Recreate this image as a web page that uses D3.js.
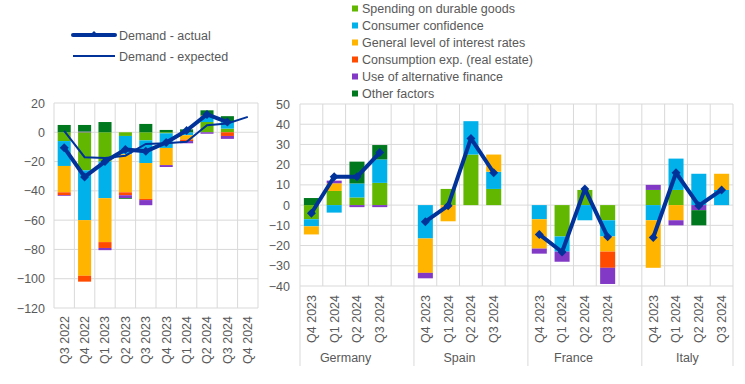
<!DOCTYPE html>
<html>
<head>
<meta charset="utf-8">
<script src="https://cdn.jsdelivr.net/npm/d3@7"></script>
<style>
  body { margin: 0; background: #fff; }
  svg text { font-family: "Liberation Sans", Arial, sans-serif; fill: #595959; }
</style>
</head>
<body>
<svg id="chart" width="745" height="384"></svg>
<script>
// ---- data: euro area (left panel) ----
const leftQuarters = ["Q3 2022", "Q4 2022", "Q1 2023", "Q2 2023", "Q3 2023",
                      "Q4 2023", "Q1 2024", "Q2 2024", "Q3 2024", "Q4 2024"];
const leftDurable    = [-6, -26, -20, -2.5, -5.5, -0.7, 0, 7, 2.5, 0];
const leftConfidence = [-17, -34, -25, -12.5, -15.5, -10, -2, 4, 5, 0];
const leftRates      = [-18, -38, -30, -26, -24.5, -11.7, -3, 0, 0, 0];
const leftRealEstate = [-2, -4, -4, -2, -0.8, 0, -1, 0.5, -2.5, 0];
const leftAltFinance = [-0.5, 0.5, -1.5, -2, -3.5, -1.3, -1.5, -1, -2, 0];
const leftOther      = [5, 4.5, 7, -0.5, 5.7, 1.6, 2, 3.5, 3.5, 0];
const leftActual     = [-10.5, -30.5, -20, -11.8, -13, -7, 1.2, 12.2, 7, null];
const leftExpected   = [1, -17, -17.5, -16, -8, -7.5, -6.5, 4.8, 6, 10.5];
const leftTicks      = [-120, -100, -80, -60, -40, -20, 0, 20];

// ---- data: countries (right panel) ----
const countries = ["Germany", "Spain", "France", "Italy"];
const rightQuarters = ["Q4 2023", "Q1 2024", "Q2 2024", "Q3 2024"];
// values ordered country by country, quarter by quarter
const rightDurable    = [-7, 7, 3.8, 11,   0, 8, 25, 8,   0, -15.5, 7.5, -7.5,   7.5, 7.5, 0, 0];
const rightConfidence = [-3.5, -3.7, 6.9, 11.6,   -16.5, 0, 16.5, 8.5,   -7, -7.5, -7.5, -8,   -7.5, 15.5, 15.5, 7.5];
const rightRates      = [-4, 3.8, 0, 0,   -17, -8, 0, 8.5,   -14.5, 0, 0, -7.5,   -23.5, -7.5, 0, 8];
const rightRealEstate = [0, 0, 0, 0,   0, 0, 0, 0,   0, 0, 0, -8,   0, 0, 0, 0];
const rightAltFinance = [0, 1.3, -1, -1,   -2.7, 0, 0, 0,   -2.5, -5, 0, -8,   2.5, -2.5, -2.5, 0];
const rightOther      = [3.5, 0, 10.8, 7.1,   0, 0, 0, 0,   0, 0, 0, 0,   0, 0, -7.5, 0];
const rightActual     = [-4, 14, 14, 26,   -8.2, -0.3, 33, 16,   -14.5, -23.2, 8, -15.7,   -16, 16, -0.3, 7.5];
const rightTicks      = [-40, -30, -20, -10, 0, 10, 20, 30, 40, 50];

const seriesKeys   = ["durable", "confidence", "rates", "realEstate", "altFinance", "other"];
const seriesLabels = ["Spending on durable goods", "Consumer confidence", "General level of interest rates",
                      "Consumption exp. (real estate)", "Use of alternative finance", "Other factors"];
const seriesColors = ["#62b800", "#00b1ea", "#ffb400", "#ff4b00", "#8139c6", "#00781e"];
const lineColor = "#003299";
const gridColor = "#d9d9d9";

const svg = d3.select("#chart");
const color = d3.scaleOrdinal().domain(seriesKeys).range(seriesColors);

function buildRows(keys, arrays) {
    return keys.map((k, i) => {
        const row = { key: k };
        seriesKeys.forEach((s, j) => { row[s] = arrays[j][i]; });
        return row;
    });
}

const stack = d3.stack().keys(seriesKeys).offset(d3.stackOffsetDiverging);

function diamond(g, points, x, y) {
    g.selectAll(null)
        .data(points)
        .enter()
        .append("path")
        .attr("d", d3.symbol().type(d3.symbolSquare).size(40))
        .attr("transform", d => `translate(${x(d.key)},${y(d.v)}) rotate(45)`)
        .attr("fill", lineColor);
}

// ================= left panel =================
{
    const x = d3.scaleBand().domain(leftQuarters).range([54, 258]).padding(0);
    const y = d3.scaleLinear().domain([-120, 20]).range([308, 103]);
    const cx = k => x(k) + x.bandwidth() / 2;
    const barW = x.bandwidth() * 0.64;
    const g = svg.append("g");

    // grid
    g.selectAll(".hg").data(leftTicks).enter().append("line")
        .attr("x1", 54).attr("x2", 258)
        .attr("y1", d => y(d)).attr("y2", d => y(d))
        .attr("stroke", gridColor);
    const vlines = leftQuarters.map(q => x(q)).concat([258]);
    g.selectAll(".vg").data(vlines).enter().append("line")
        .attr("x1", d => d).attr("x2", d => d)
        .attr("y1", 103).attr("y2", 308)
        .attr("stroke", gridColor);

    // y axis labels
    g.append("g")
        .attr("transform", "translate(54,0)")
        .call(d3.axisLeft(y).tickValues(leftTicks).tickSize(0).tickPadding(9))
        .call(a => a.select(".domain").remove())
        .selectAll("text")
        .style("font-size", "12.5px").attr("fill", "#595959");

    // bars
    const rows = buildRows(leftQuarters, [leftDurable, leftConfidence, leftRates,
                                          leftRealEstate, leftAltFinance, leftOther]);
    g.selectAll(".layer")
        .data(stack(rows))
        .enter()
        .append("g")
        .attr("fill", d => color(d.key))
        .selectAll("rect")
        .data(d => d)
        .enter()
        .append("rect")
        .attr("x", d => cx(d.data.key) - barW / 2)
        .attr("width", barW)
        .attr("y", d => y(Math.max(d[0], d[1])))
        .attr("height", d => Math.abs(y(d[0]) - y(d[1])));

    // lines
    const exp = leftQuarters.map((k, i) => ({ key: k, v: leftExpected[i] }));
    const act = leftQuarters.map((k, i) => ({ key: k, v: leftActual[i] })).filter(d => d.v !== null);
    const line = d3.line().x(d => cx(d.key)).y(d => y(d.v));
    g.append("path").datum(exp).attr("d", line)
        .attr("fill", "none").attr("stroke", lineColor).attr("stroke-width", 2);
    g.append("path").datum(act).attr("d", line)
        .attr("fill", "none").attr("stroke", lineColor).attr("stroke-width", 4)
        .attr("stroke-linejoin", "round");
    diamond(g, act, cx, y);

    // x labels
    g.selectAll(".xl").data(leftQuarters).enter().append("text")
        .attr("transform", d => `translate(${cx(d)},316) rotate(-90)`)
        .attr("text-anchor", "end")
        .attr("dy", "0.35em")
        .style("font-size", "12.5px")
        .text(d => d);

    // legend
    const lg = svg.append("g");
    lg.append("line").attr("x1", 73).attr("x2", 115).attr("y1", 35).attr("y2", 35)
        .attr("stroke", lineColor).attr("stroke-width", 4).attr("stroke-linecap", "round");
    lg.append("path").attr("d", d3.symbol().type(d3.symbolSquare).size(8))
        .attr("transform", "translate(94,33) rotate(45)").attr("fill", lineColor);
    lg.append("line").attr("x1", 73).attr("x2", 115).attr("y1", 56).attr("y2", 56)
        .attr("stroke", lineColor).attr("stroke-width", 2);
    lg.append("text").attr("x", 119).attr("y", 39.5).style("font-size", "12.5px").text("Demand - actual");
    lg.append("text").attr("x", 119).attr("y", 60.5).style("font-size", "12.5px").text("Demand - expected");
}

// ================= right panel =================
{
    const slots = [];
    countries.forEach((c, ci) => {
        rightQuarters.forEach(q => slots.push(c + "|" + q));
        if (ci < countries.length - 1) slots.push(c + "|gap");
    });
    const x = d3.scaleBand().domain(slots).range([300, 733]).padding(0);
    const y = d3.scaleLinear().domain([-40, 50]).range([286, 104]);
    const cx = k => x(k) + x.bandwidth() / 2;
    const barW = x.bandwidth() * 0.66;
    const g = svg.append("g");

    const keys = [];
    countries.forEach(c => rightQuarters.forEach(q => keys.push(c + "|" + q)));

    // grid
    g.selectAll(".hg").data(rightTicks).enter().append("line")
        .attr("x1", 300).attr("x2", 733)
        .attr("y1", d => y(d)).attr("y2", d => y(d))
        .attr("stroke", gridColor);
    const vlines = slots.map(s => x(s)).concat([733]);
    g.selectAll(".vg").data(vlines).enter().append("line")
        .attr("x1", d => d).attr("x2", d => d)
        .attr("y1", 104).attr("y2", 286)
        .attr("stroke", gridColor);

    // group separators below the plot
    const seps = countries.map(c => x(c + "|" + rightQuarters[0])).concat([733]);
    g.selectAll(".sep").data(seps).enter().append("line")
        .attr("x1", d => d).attr("x2", d => d)
        .attr("y1", 286).attr("y2", 366)
        .attr("stroke", gridColor);

    g.append("g")
        .attr("transform", "translate(300,0)")
        .call(d3.axisLeft(y).tickValues(rightTicks).tickSize(0).tickPadding(10))
        .call(a => a.select(".domain").remove())
        .selectAll("text")
        .style("font-size", "12.5px").attr("fill", "#595959");

    // bars
    const rows = buildRows(keys, [rightDurable, rightConfidence, rightRates,
                                  rightRealEstate, rightAltFinance, rightOther]);
    g.selectAll(".layer")
        .data(stack(rows))
        .enter()
        .append("g")
        .attr("fill", d => color(d.key))
        .selectAll("rect")
        .data(d => d)
        .enter()
        .append("rect")
        .attr("x", d => cx(d.data.key) - barW / 2)
        .attr("width", barW)
        .attr("y", d => y(Math.max(d[0], d[1])))
        .attr("height", d => Math.abs(y(d[0]) - y(d[1])));

    // actual demand, one line per country
    const line = d3.line().x(d => cx(d.key)).y(d => y(d.v));
    countries.forEach((c, ci) => {
        const pts = rightQuarters.map((q, qi) => ({ key: c + "|" + q, v: rightActual[ci * 4 + qi] }));
        g.append("path").datum(pts).attr("d", line)
            .attr("fill", "none").attr("stroke", lineColor).attr("stroke-width", 4)
            .attr("stroke-linejoin", "round");
        diamond(g, pts, cx, y);
    });

    // x labels
    g.selectAll(".xl").data(keys).enter().append("text")
        .attr("transform", d => `translate(${cx(d)},295) rotate(-90)`)
        .attr("text-anchor", "end")
        .attr("dy", "0.35em")
        .style("font-size", "12.5px")
        .text(d => d.split("|")[1]);

    // country labels
    g.selectAll(".cl").data(countries).enter().append("text")
        .attr("x", c => (x(c + "|" + rightQuarters[0]) + x(c + "|" + rightQuarters[3]) + x.bandwidth()) / 2)
        .attr("y", 361.5)
        .attr("text-anchor", "middle")
        .style("font-size", "12.5px")
        .text(c => c);

    // legend
    const lg = svg.append("g");
    seriesKeys.forEach((k, i) => {
        const yy = 8.5 + i * 17;
        lg.append("rect").attr("x", 352).attr("y", yy - 3).attr("width", 6).attr("height", 6)
            .attr("fill", color(k));
        lg.append("text").attr("x", 362).attr("y", yy + 4.5)
            .style("font-size", "12.5px").text(seriesLabels[i]);
    });
}
</script>
</body>
</html>
